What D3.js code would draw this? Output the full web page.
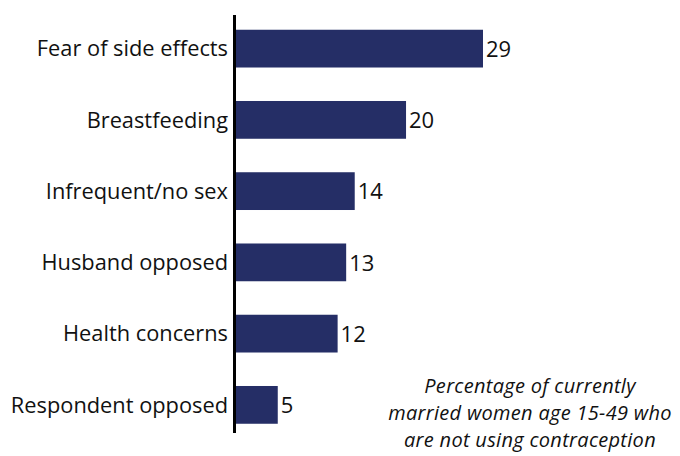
<!DOCTYPE html>
<html>
<head>
<meta charset="utf-8">
<script src="https://cdn.jsdelivr.net/npm/d3@7"></script>
<style>
  html, body { margin: 0; padding: 0; background: #fff; }
  svg { display: block; }
</style>
</head>
<body>
<svg id="chart" width="680" height="456"></svg>
<script>
const categories = ["Fear of side effects", "Breastfeeding", "Infrequent/no sex", "Husband opposed", "Health concerns", "Respondent opposed"];
const values = [29, 20, 14, 13, 12, 5];
const noteLines = ["Percentage of currently", "married women age 15-49 who", "are not using contraception"];

const svg = d3.select("#chart");
const font = "'Open Sans', 'Noto Sans', sans-serif";
const barColor = "#252e66";
const x0 = 235;

const x = d3.scaleLinear().domain([0, 29]).range([x0, 483]);
const y = d3.scaleBand().domain(categories).range([13, 440.5]).paddingInner(0.47).paddingOuter(0.235);

svg.selectAll("rect.bar").data(categories).join("rect")
  .attr("class", "bar")
  .attr("x", x(0))
  .attr("y", d => y(d))
  .attr("width", (d, i) => x(values[i]) - x(0))
  .attr("height", y.bandwidth())
  .attr("fill", barColor);

// axis line
svg.append("line")
  .attr("x1", 234.5).attr("x2", 234.5)
  .attr("y1", 15).attr("y2", 433)
  .attr("stroke", "#000").attr("stroke-width", 3);

svg.selectAll("text.cat").data(categories).join("text")
  .attr("class", "cat")
  .attr("x", 228)
  .attr("y", d => y(d) + y.bandwidth() / 2)
  .attr("dy", "0.35em")
  .attr("text-anchor", "end")
  .attr("font-family", font)
  .attr("font-size", 21.8)
  .attr("fill", "#111")
  .text(d => d);

svg.selectAll("text.val").data(categories).join("text")
  .attr("class", "val")
  .attr("x", (d, i) => x(values[i]) + 3)
  .attr("y", d => y(d) + y.bandwidth() / 2)
  .attr("dy", "0.37em")
  .attr("font-family", font)
  .attr("font-size", 22)
  .attr("fill", "#111")
  .text((d, i) => values[i]);

svg.selectAll("text.note").data(noteLines).join("text")
  .attr("class", "note")
  .attr("x", 530)
  .attr("y", (d, i) => 393 + i * 27.2)
  .attr("text-anchor", "middle")
  .attr("font-family", font)
  .attr("font-style", "italic")
  .attr("font-size", 20)
  .attr("letter-spacing", 0.3)
  .attr("fill", "#111")
  .text(d => d);
</script>
</body>
</html>
